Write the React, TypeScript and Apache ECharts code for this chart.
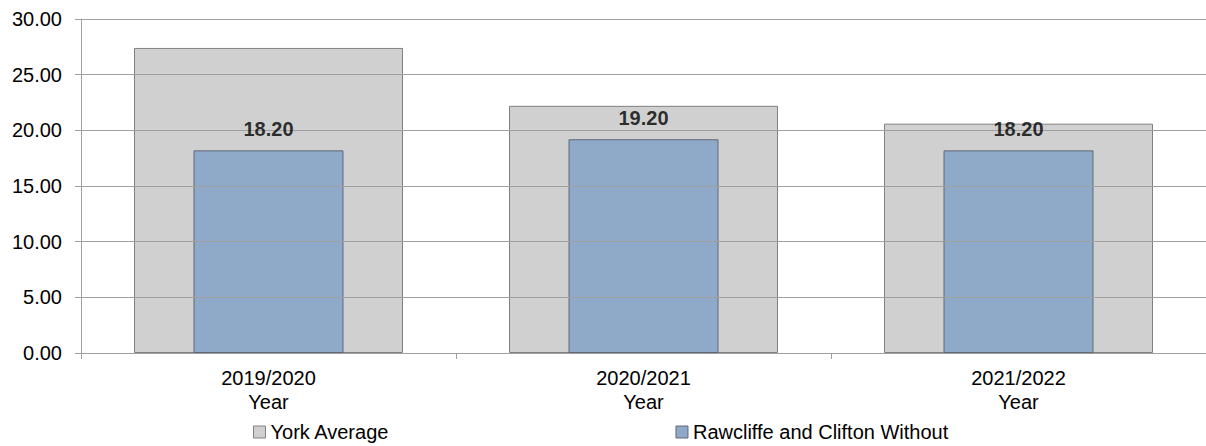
import React, { useEffect, useRef } from "react";
import * as echarts from "echarts";

const categories = ["2019/2020\nYear", "2020/2021\nYear", "2021/2022\nYear"];
const yorkAverage = [27.4, 22.2, 20.6];
const rawcliffe = [18.2, 19.2, 18.2];
const yTicks = { min: 0, max: 30, interval: 5 };

const FONT = "Arial";

export default function App() {
  const ref = useRef<HTMLDivElement>(null);
  useEffect(() => {
    if (!ref.current) return;
    const chart = echarts.init(ref.current, undefined, { renderer: "svg" });
    chart.setOption({
      animation: false,
      grid: { left: 81, right: -3, top: 19, bottom: 93, containLabel: false },
      legend: {
        top: 417,
        left: 248,
        itemGap: 286,
        itemWidth: 12,
        itemHeight: 12,
        icon: "rect",
        textStyle: { fontFamily: FONT, fontSize: 20, color: "#000" },
        data: [
          { name: "York Average", itemStyle: { color: "#d0d0d0", borderColor: "#808080", borderWidth: 1 } },
          { name: "Rawcliffe and Clifton Without", itemStyle: { color: "#8faac8", borderColor: "#606878", borderWidth: 1 } },
        ],
      },
      xAxis: [
        {
          type: "category",
          data: categories,
          axisLine: { lineStyle: { color: "#a0a0a0", width: 1 } },
          axisTick: { show: true, length: 6, lineStyle: { color: "#a0a0a0" } },
          axisLabel: { fontFamily: FONT, fontSize: 20, color: "#000", lineHeight: 24, margin: 13 },
        },
        {
          type: "category",
          data: categories,
          show: false,
        },
      ],
      yAxis: {
        type: "value",
        min: yTicks.min,
        max: yTicks.max,
        interval: yTicks.interval,
        z: 10,
        axisLine: { show: true, lineStyle: { color: "#a0a0a0", width: 1 } },
        axisTick: { show: true, length: 6, lineStyle: { color: "#a0a0a0" } },
        splitLine: { show: true, lineStyle: { color: "#a0a0a0", width: 1 } },
        axisLabel: {
          fontFamily: FONT,
          fontSize: 20,
          color: "#000",
          margin: 19,
          formatter: (v: number) => v.toFixed(2),
        },
      },
      series: [
        {
          name: "York Average",
          type: "bar",
          xAxisIndex: 0,
          data: yorkAverage,
          barWidth: 269,
          itemStyle: { color: "#d0d0d0", borderColor: "#808080", borderWidth: 1 },
        },
        {
          name: "Rawcliffe and Clifton Without",
          type: "bar",
          xAxisIndex: 1,
          data: rawcliffe,
          barWidth: 150,
          itemStyle: { color: "#8faac8", borderColor: "#606878", borderWidth: 1 },
        },
        {
          name: "labels",
          type: "scatter",
          xAxisIndex: 1,
          data: rawcliffe,
          symbolSize: 0,
          z: 20,
          silent: true,
          label: {
            show: true,
            position: "top",
            distance: 11,
            fontFamily: FONT,
            fontSize: 20,
            fontWeight: "bold",
            color: "#000",
            formatter: (p: any) => Number(p.value).toFixed(2),
          },
        },
      ],
    });
    return () => chart.dispose();
  }, []);
  return <div ref={ref} style={{ width: 1206, height: 446, position: "absolute", left: 0, top: 0 }} />;
}
